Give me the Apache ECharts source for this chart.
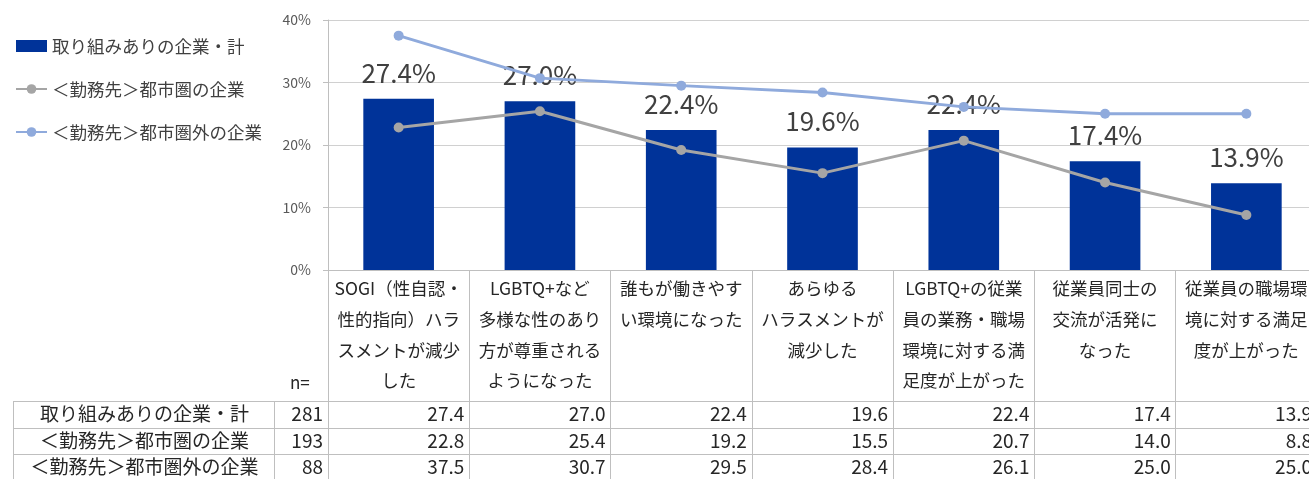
<!DOCTYPE html>
<html><head><meta charset="utf-8">
<script src="https://cdn.jsdelivr.net/npm/echarts@6/dist/echarts.min.js"></script>
<style>html,body{margin:0;padding:0;background:#fff}#c{width:1309px;height:479px}</style>
</head><body><div id="c"></div>
<script>
const categoryLines = [
  ['SOGI（性自認・','性的指向）ハラ','スメントが減少','した'],
  ['LGBTQ+など','多様な性のあり','方が尊重される','ようになった'],
  ['誰もが働きやす','い環境になった'],
  ['あらゆる','ハラスメントが','減少した'],
  ['LGBTQ+の従業','員の業務・職場','環境に対する満','足度が上がった'],
  ['従業員同士の','交流が活発に','なった'],
  ['従業員の職場環','境に対する満足','度が上がった']
];
const seriesNames = ['取り組みありの企業・計','＜勤務先＞都市圏の企業','＜勤務先＞都市圏外の企業'];
const nValues = [281, 193, 88];
const totalValues = [27.4, 27.0, 22.4, 19.6, 22.4, 17.4, 13.9];
const urbanValues = [22.8, 25.4, 19.2, 15.5, 20.7, 14.0, 8.8];
const ruralValues = [37.5, 30.7, 29.5, 28.4, 26.1, 25.0, 25.0];
const yMin = 0, yMax = 40, yInterval = 10;

const FONT = '"Noto Sans CJK JP","Noto Sans",sans-serif';
const categories = categoryLines.map(l => l.join('\n'));
const chart = echarts.init(document.getElementById('c'), null, {renderer: 'canvas'});

const gridLeft = 328, gridTop = 20, gridHeight = 250, gridWidth = 989;
const option = {
  animation: false,
  textStyle: {fontFamily: FONT},
  legend: {
    orient: 'vertical', left: 10, top: 31, itemWidth: 31, itemHeight: 12, itemGap: 23,
    textStyle: {fontSize: 17.5, color: '#404040', fontFamily: FONT, lineHeight: 20},
    data: [
      {name: seriesNames[0], icon: 'rect'},
      {name: seriesNames[1]},
      {name: seriesNames[2]}
    ]
  },
  grid: {left: gridLeft, top: gridTop, width: gridWidth, height: gridHeight, containLabel: false, outerBoundsMode: 'none'},
  xAxis: {
    type: 'category', data: categories,
    axisLine: {show: true, lineStyle: {color: '#bfbfbf', width: 1}},
    axisTick: {show: true, interval: 0, length: 215, lineStyle: {color: '#bfbfbf', width: 1}},
    axisLabel: {interval: 0, margin: 3, fontSize: 17.5, lineHeight: 30.8, color: '#262626', fontFamily: FONT}
  },
  yAxis: {
    type: 'value', min: yMin, max: yMax, interval: yInterval,
    axisLine: {show: true, lineStyle: {color: '#bfbfbf'}},
    axisTick: {show: true, length: 5, lineStyle: {color: '#bfbfbf'}},
    axisLabel: {formatter: '{value}%', fontSize: 14, color: '#595959', margin: 17, fontFamily: FONT},
    splitLine: {lineStyle: {color: '#d0d0d0'}}
  },
  series: [
    {
      name: seriesNames[0], type: 'bar', data: totalValues, barWidth: '50%',
      itemStyle: {color: '#003399'},
      label: {show: true, position: 'top', distance: 13, fontSize: 26, color: '#404040', fontFamily: FONT,
        formatter: p => p.value.toFixed(1) + '%'},
      z: 2
    },
    {
      name: seriesNames[1], type: 'line', data: urbanValues, symbol: 'circle', symbolSize: 10,
      itemStyle: {color: '#a5a5a5'}, lineStyle: {color: '#a5a5a5', width: 3}, z: 3
    },
    {
      name: seriesNames[2], type: 'line', data: ruralValues, symbol: 'circle', symbolSize: 10,
      itemStyle: {color: '#8faadc'}, lineStyle: {color: '#8faadc', width: 3}, z: 3
    }
  ]
};
chart.setOption(option);

// data table built from the category axis scale
const c0 = chart.convertToPixel({xAxisIndex: 0}, 0);
const c1 = chart.convertToPixel({xAxisIndex: 0}, 1);
const band = c1 - c0;
const rowTop = 401, rowH = 26.5, tableLeft = 13, labelColRight = 274, nColRight = gridLeft;
const lineColor = '#bfbfbf';
const els = [];
for (let r = 0; r <= 3; r++) {
  const y = Math.round(rowTop + r * rowH) + 0.5;
  els.push({type: 'line', shape: {x1: tableLeft, y1: y, x2: 1309, y2: y}, style: {stroke: lineColor, lineWidth: 1}, silent: true});
}
[tableLeft, labelColRight].forEach(x => {
  els.push({type: 'line', shape: {x1: x + 0.5, y1: rowTop, x2: x + 0.5, y2: rowTop + 3 * rowH}, style: {stroke: lineColor, lineWidth: 1}, silent: true});
});
els.push({type: 'text', x: 290, y: 383, style: {text: 'n=', fontSize: 17, fontFamily: FONT, fill: '#262626', align: 'left', verticalAlign: 'middle'}, silent: true});
const rows = [totalValues, urbanValues, ruralValues];
rows.forEach((vals, r) => {
  const yc = rowTop + r * rowH + rowH / 2;
  els.push({type: 'text', x: (tableLeft + labelColRight) / 2 + 1, y: yc, style: {text: seriesNames[r], fontSize: 19, fontFamily: FONT, fill: '#262626', align: 'center', verticalAlign: 'middle'}, silent: true});
  els.push({type: 'text', x: nColRight - 5, y: yc, style: {text: String(nValues[r]), fontSize: 19, fontFamily: FONT, fill: '#262626', align: 'right', verticalAlign: 'middle'}, silent: true});
  vals.forEach((v, i) => {
    const cx = chart.convertToPixel({xAxisIndex: 0}, i);
    els.push({type: 'text', x: cx + band / 2 - 5, y: yc, style: {text: v.toFixed(1), fontSize: 19, fontFamily: FONT, fill: '#262626', align: 'right', verticalAlign: 'middle'}, silent: true});
  });
});
chart.setOption({graphic: {elements: els}});
</script></body></html>
